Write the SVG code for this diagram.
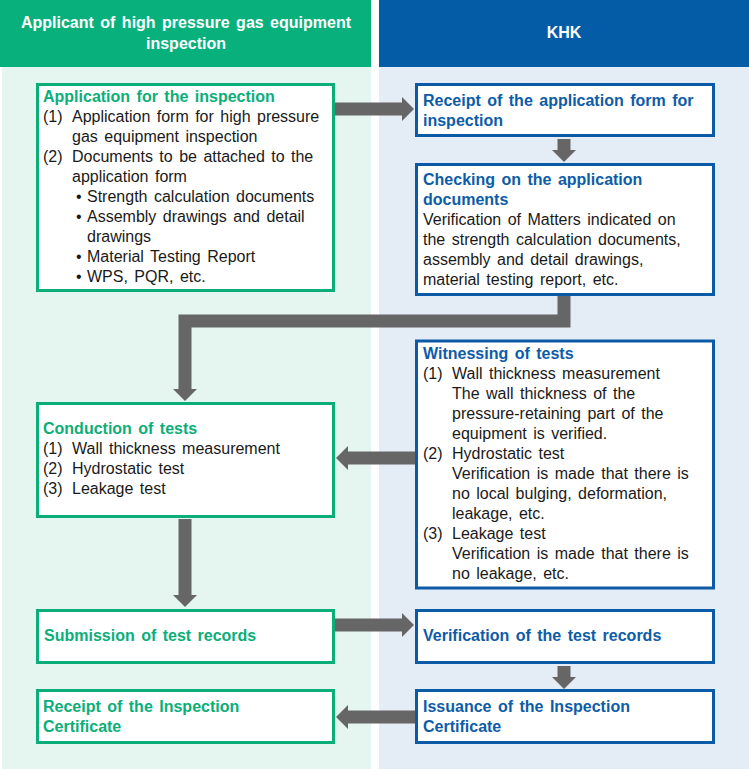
<svg xmlns="http://www.w3.org/2000/svg" width="749" height="769" viewBox="0 0 749 769">
<style>
text{font-family:"Liberation Sans",Arial,sans-serif;font-size:16px;word-spacing:2px;fill:#1a1a1a}
.hd{fill:#fff;font-weight:bold;text-anchor:middle}
.gt{fill:#0BAE78;font-weight:bold}
.bt{fill:#0D5CA8;font-weight:bold}
.gb{fill:#fff;stroke:#0BAE78;stroke-width:3}
.bb{fill:#fff;stroke:#0A5AA6;stroke-width:3}
.ar{fill:none;stroke:#666;stroke-width:13;stroke-linejoin:miter}
</style>
<defs>
<marker id="ah" viewBox="0 -12 12 24" refX="0" refY="0" markerWidth="12" markerHeight="24" markerUnits="userSpaceOnUse" orient="auto">
<path d="M0,-12 L12,0 L0,12 z" fill="#666"/>
</marker>
</defs>
<g id="background">
<rect x="0" y="0" width="749" height="769" fill="#fff"/>
<rect x="2" y="67" width="369" height="702" fill="#E5F5EF"/>
<rect x="379" y="67" width="370" height="702" fill="#E4ECF6"/>
<rect x="0" y="0" width="371" height="67" fill="#08B17C"/>
<rect x="379" y="0" width="370" height="67" fill="#045CA6"/>
<text class="hd" x="186" y="28">Applicant of high pressure gas equipment</text>
<text class="hd" x="186" y="49">inspection</text>
<text class="hd" x="564" y="38">KHK</text>
</g>
<g id="connectors">
<polyline class="ar" points="335,109 402,109" marker-end="url(#ah)"/>
<polyline class="ar" points="564,139 564,150" marker-end="url(#ah)"/>
<polyline class="ar" points="564,296 564,321 185,321 185,389" marker-end="url(#ah)"/>
<polyline class="ar" points="415,458 348,458" marker-end="url(#ah)"/>
<polyline class="ar" points="185,519 185,595" marker-end="url(#ah)"/>
<polyline class="ar" points="335,625 402,625" marker-end="url(#ah)"/>
<polyline class="ar" points="564,666 564,677" marker-end="url(#ah)"/>
<polyline class="ar" points="415,717 348,717" marker-end="url(#ah)"/>
</g>
<g id="application">
<rect class="gb" x="37.5" y="84.5" width="296" height="206"/>
<text class="gt" x="43" y="102">Application for the inspection</text>
<text x="43" y="122">(1)</text><text x="72" y="122">Application form for high pressure</text>
<text x="72" y="142">gas equipment inspection</text>
<text x="43" y="162">(2)</text><text x="72" y="162">Documents to be attached to the</text>
<text x="72" y="182">application form</text>
<text x="76" y="202">•</text><text x="87" y="202">Strength calculation documents</text>
<text x="76" y="222">•</text><text x="87" y="222">Assembly drawings and detail</text>
<text x="87" y="242">drawings</text>
<text x="76" y="262">•</text><text x="87" y="262">Material Testing Report</text>
<text x="76" y="282">•</text><text x="87" y="282">WPS, PQR, etc.</text>
</g>
<g id="receipt-application">
<rect class="bb" x="416.5" y="84.5" width="297" height="51"/>
<text class="bt" x="423" y="106">Receipt of the application form for</text>
<text class="bt" x="423" y="126">inspection</text>
</g>
<g id="checking">
<rect class="bb" x="416.5" y="164.5" width="297" height="130"/>
<text class="bt" x="423" y="185">Checking on the application</text>
<text class="bt" x="423" y="205">documents</text>
<text x="423" y="225">Verification of Matters indicated on</text>
<text x="423" y="245">the strength calculation documents,</text>
<text x="423" y="265">assembly and detail drawings,</text>
<text x="423" y="285">material testing report, etc.</text>
</g>
<g id="witnessing">
<rect class="bb" x="416.5" y="341" width="297" height="247"/>
<text class="bt" x="423" y="359">Witnessing of tests</text>
<text x="423" y="379">(1)</text><text x="452" y="379">Wall thickness measurement</text>
<text x="452" y="399">The wall thickness of the</text>
<text x="452" y="419">pressure-retaining part of the</text>
<text x="452" y="439">equipment is verified.</text>
<text x="423" y="459">(2)</text><text x="452" y="459">Hydrostatic test</text>
<text x="452" y="479">Verification is made that there is</text>
<text x="452" y="499">no local bulging, deformation,</text>
<text x="452" y="519">leakage, etc.</text>
<text x="423" y="539">(3)</text><text x="452" y="539">Leakage test</text>
<text x="452" y="559">Verification is made that there is</text>
<text x="452" y="579">no leakage, etc.</text>
</g>
<g id="conduction">
<rect class="gb" x="37.5" y="403.5" width="296" height="113"/>
<text class="gt" x="43" y="434">Conduction of tests</text>
<text x="43" y="454">(1)</text><text x="72" y="454">Wall thickness measurement</text>
<text x="43" y="474">(2)</text><text x="72" y="474">Hydrostatic test</text>
<text x="43" y="494">(3)</text><text x="72" y="494">Leakage test</text>
</g>
<g id="submission">
<rect class="gb" x="37.5" y="610.5" width="296" height="52"/>
<text class="gt" x="44" y="641">Submission of test records</text>
</g>
<g id="verification">
<rect class="bb" x="416.5" y="610.5" width="297" height="52"/>
<text class="bt" x="423" y="641">Verification of the test records</text>
</g>
<g id="receipt-certificate">
<rect class="gb" x="37.5" y="690.5" width="296" height="52"/>
<text class="gt" x="43" y="712">Receipt of the Inspection</text>
<text class="gt" x="43" y="732">Certificate</text>
</g>
<g id="issuance">
<rect class="bb" x="416.5" y="690.5" width="297" height="52"/>
<text class="bt" x="423" y="712">Issuance of the Inspection</text>
<text class="bt" x="423" y="732">Certificate</text>
</g>
</svg>
